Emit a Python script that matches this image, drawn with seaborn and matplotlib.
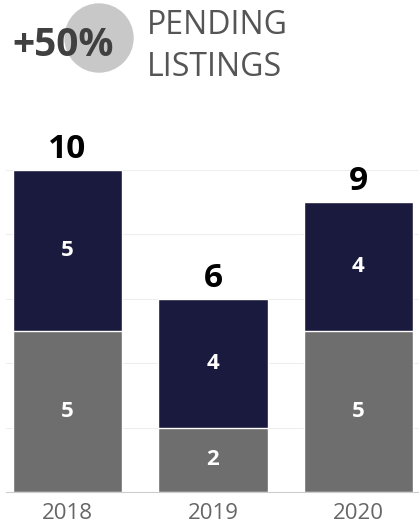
import matplotlib
matplotlib.use("Agg")
import matplotlib.pyplot as plt
import numpy as np
import pandas as pd
import seaborn as sns
from matplotlib.patches import Ellipse

years = ["2018", "2019", "2020"]
lower = [5, 2, 5]
upper = [5, 4, 4]
totals = [l + u for l, u in zip(lower, upper)]

navy = "#1a1a3e"
grey = "#6e6e6e"

sns.set_style("white")
plt.rcParams["font.family"] = ["Open Sans", "DejaVu Sans"]

fig = plt.figure(figsize=(4.19, 5.26), dpi=100)
ax = fig.add_axes([6 / 419, 34 / 526, 413 / 419, 322 / 526])

df = pd.DataFrame({"year": years, "lower": lower, "total": totals})
sns.barplot(data=df, x="year", y="total", color=navy, width=0.75, saturation=1, ax=ax)
sns.barplot(data=df, x="year", y="lower", color=grey, width=0.75, saturation=1, ax=ax)

ax.set_xlim(-0.423, 2.416)
ax.set_ylim(0, 10)
ax.set_yticks(np.arange(0, 11, 2))
ax.yaxis.grid(True, color="#eeeeee", linewidth=0.8)
ax.set_axisbelow(True)
for side in ["top", "right", "left"]:
    ax.spines[side].set_visible(False)
ax.spines["bottom"].set_color("#cccccc")
ax.set_yticklabels([])
ax.tick_params(axis="y", length=0)
ax.tick_params(axis="x", length=0, labelsize=16, labelcolor="#666666", pad=8)
ax.set_xlabel("")
ax.set_ylabel("")

for i, (lo, up, tot) in enumerate(zip(lower, upper, totals)):
    ax.text(i, lo / 2, str(lo), ha="center", va="center", color="white",
            fontsize=16, fontweight="bold")
    ax.text(i, lo + up / 2, str(up), ha="center", va="center", color="white",
            fontsize=16, fontweight="bold")
    ax.annotate(str(tot), (i, tot), xytext=(0, 3), textcoords="offset points",
                ha="center", va="bottom", fontsize=24, fontweight="bold", color="black")

# header
fig.patches.append(Ellipse((99 / 419, 1 - 38 / 526), 68 / 419, 68 / 526,
                           transform=fig.transFigure, color="#c8c8c8", zorder=0))
fig.text(12 / 419, 1 - 45 / 526, "+50%", ha="left", va="center", fontsize=28,
         fontweight="bold", color="#404040")
fig.text(147 / 419, 1 - 25 / 526, "PENDING", ha="left", va="center", fontsize=23,
         color="#555555")
fig.text(147 / 419, 1 - 68 / 526, "LISTINGS", ha="left", va="center", fontsize=23,
         color="#555555")

fig.savefig("out.png", dpi=100)
